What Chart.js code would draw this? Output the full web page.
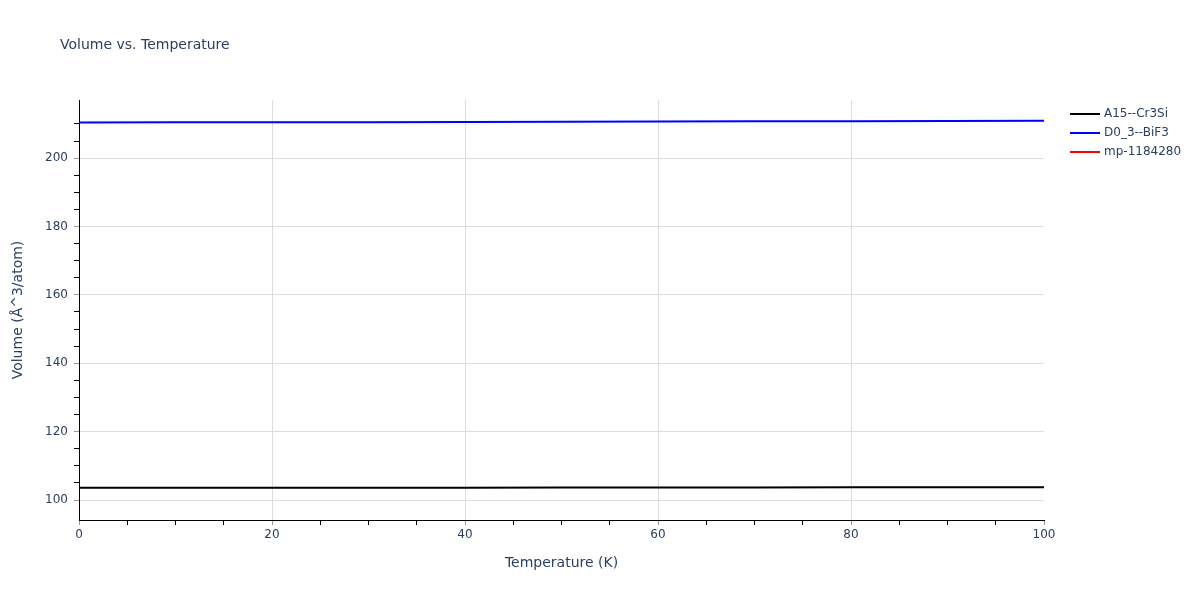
<!DOCTYPE html>
<html>
<head>
<meta charset="utf-8">
<script src="https://cdn.jsdelivr.net/npm/chart.js@4.4.1/dist/chart.umd.min.js"></script>
<style>
  html, body { margin: 0; padding: 0; background: #fff; }
  #wrap { width: 1200px; height: 600px; }
</style>
</head>
<body>
<div id="wrap"><canvas id="volumeChart" width="1200" height="600"></canvas></div>
<script>
const temperatures = [0, 10, 20, 30, 40, 50, 60, 70, 80, 90, 100];
const volumeA15 = [103.55, 103.56, 103.57, 103.59, 103.61, 103.63, 103.65, 103.67, 103.70, 103.72, 103.75];
const volumeD03 = [210.45, 210.46, 210.48, 210.52, 210.57, 210.63, 210.69, 210.75, 210.82, 210.88, 210.95];
const volumeMp = [];
const seriesNames = ['A15--Cr3Si', 'D0_3--BiF3', 'mp-1184280'];
const seriesColors = ['#000000', '#0000ff', '#ff0000'];
const chartTitle = 'Volume vs. Temperature';

const textColor = '#2a3f5f';
const fontFamily = '"DejaVu Sans", Verdana, sans-serif';
const gridColor = '#dddddd';

// title + legend drawn by hand, plotly-ish
const extras = {
    id: 'extras',
    afterDraw(chart) {
        const ctx = chart.ctx;
        ctx.save();
        ctx.fillStyle = textColor;
        ctx.font = '14px ' + fontFamily;
        ctx.textBaseline = 'middle';
        ctx.textAlign = 'left';
        ctx.fillText(chartTitle, 60, 45);

        ctx.font = '12px ' + fontFamily;
        chart.data.datasets.forEach(function (ds, i) {
            const y = 114 + i * 19;
            ctx.strokeStyle = ds.borderColor;
            ctx.lineWidth = 2;
            ctx.beginPath();
            ctx.moveTo(1070, y);
            ctx.lineTo(1100, y);
            ctx.stroke();
            ctx.fillStyle = textColor;
            ctx.fillText(ds.label, 1104, y);
        });
        ctx.restore();
    }
};

function isMajor(v) {
    return Math.abs(v / 20 - Math.round(v / 20)) < 1e-6;
}

new Chart(document.getElementById('volumeChart'), {
    type: 'line',
    data: {
        datasets: [
            { label: seriesNames[0], data: temperatures.map((t, i) => ({x: t, y: volumeA15[i]})), borderColor: seriesColors[0] },
            { label: seriesNames[1], data: temperatures.map((t, i) => ({x: t, y: volumeD03[i]})), borderColor: seriesColors[1] },
            { label: seriesNames[2], data: volumeMp, borderColor: seriesColors[2] }
        ]
    },
    options: {
        responsive: false,
        animation: false,
        devicePixelRatio: 1,
        elements: {
            point: { radius: 0 },
            line: { borderWidth: 2, tension: 0 }
        },
        layout: { padding: { top: 100, right: 156, left: 0, bottom: 0 } },
        plugins: {
            legend: { display: false },
            title: { display: false },
            tooltip: { enabled: false }
        },
        scales: {
            x: {
                type: 'linear',
                min: 0,
                max: 100,
                border: { color: '#000', width: 1 },
                ticks: {
                    stepSize: 5,
                    autoSkip: false,
                    maxRotation: 0,
                    padding: 3,
                    color: textColor,
                    font: { family: fontFamily, size: 12 },
                    callback: function (v) { return isMajor(v) ? String(v) : ''; }
                },
                grid: {
                    tickLength: 5,
                    color: function (c) {
                        const v = c.tick ? c.tick.value : 0;
                        return (isMajor(v) && v > 0 && v < 100) ? gridColor : 'rgba(0,0,0,0)';
                    },
                    tickColor: function (c) {
                        const v = c.tick ? c.tick.value : 0;
                        return isMajor(v) ? '#999' : '#000';
                    }
                },
                title: {
                    display: true,
                    text: 'Temperature (K)',
                    color: textColor,
                    font: { family: fontFamily, size: 14 },
                    padding: { top: 0, bottom: 28 }
                },
                afterFit: function (scale) { scale.height = 80; }
            },
            y: {
                type: 'linear',
                min: 94.15,
                max: 217,
                border: { color: '#000', width: 1 },
                ticks: {
                    stepSize: 5,
                    autoSkip: false,
                    padding: 6,
                    color: textColor,
                    font: { family: fontFamily, size: 12 },
                    callback: function (v) { return isMajor(v) ? String(v) : ''; }
                },
                afterBuildTicks: function (scale) {
                    scale.ticks = scale.ticks.filter(t => Math.abs(t.value / 5 - Math.round(t.value / 5)) < 1e-6);
                },
                grid: {
                    tickLength: 5,
                    color: function (c) {
                        const v = c.tick ? c.tick.value : 0;
                        return isMajor(v) ? gridColor : 'rgba(0,0,0,0)';
                    },
                    tickColor: function (c) {
                        const v = c.tick ? c.tick.value : 0;
                        return isMajor(v) ? '#999' : '#000';
                    }
                },
                title: {
                    display: true,
                    text: 'Volume (Å^3/atom)',
                    color: textColor,
                    font: { family: fontFamily, size: 14 },
                    padding: { top: 10, bottom: 0 }
                },
                afterFit: function (scale) { scale.width = 79; }
            }
        }
    },
    plugins: [extras]
});
</script>
</body>
</html>
